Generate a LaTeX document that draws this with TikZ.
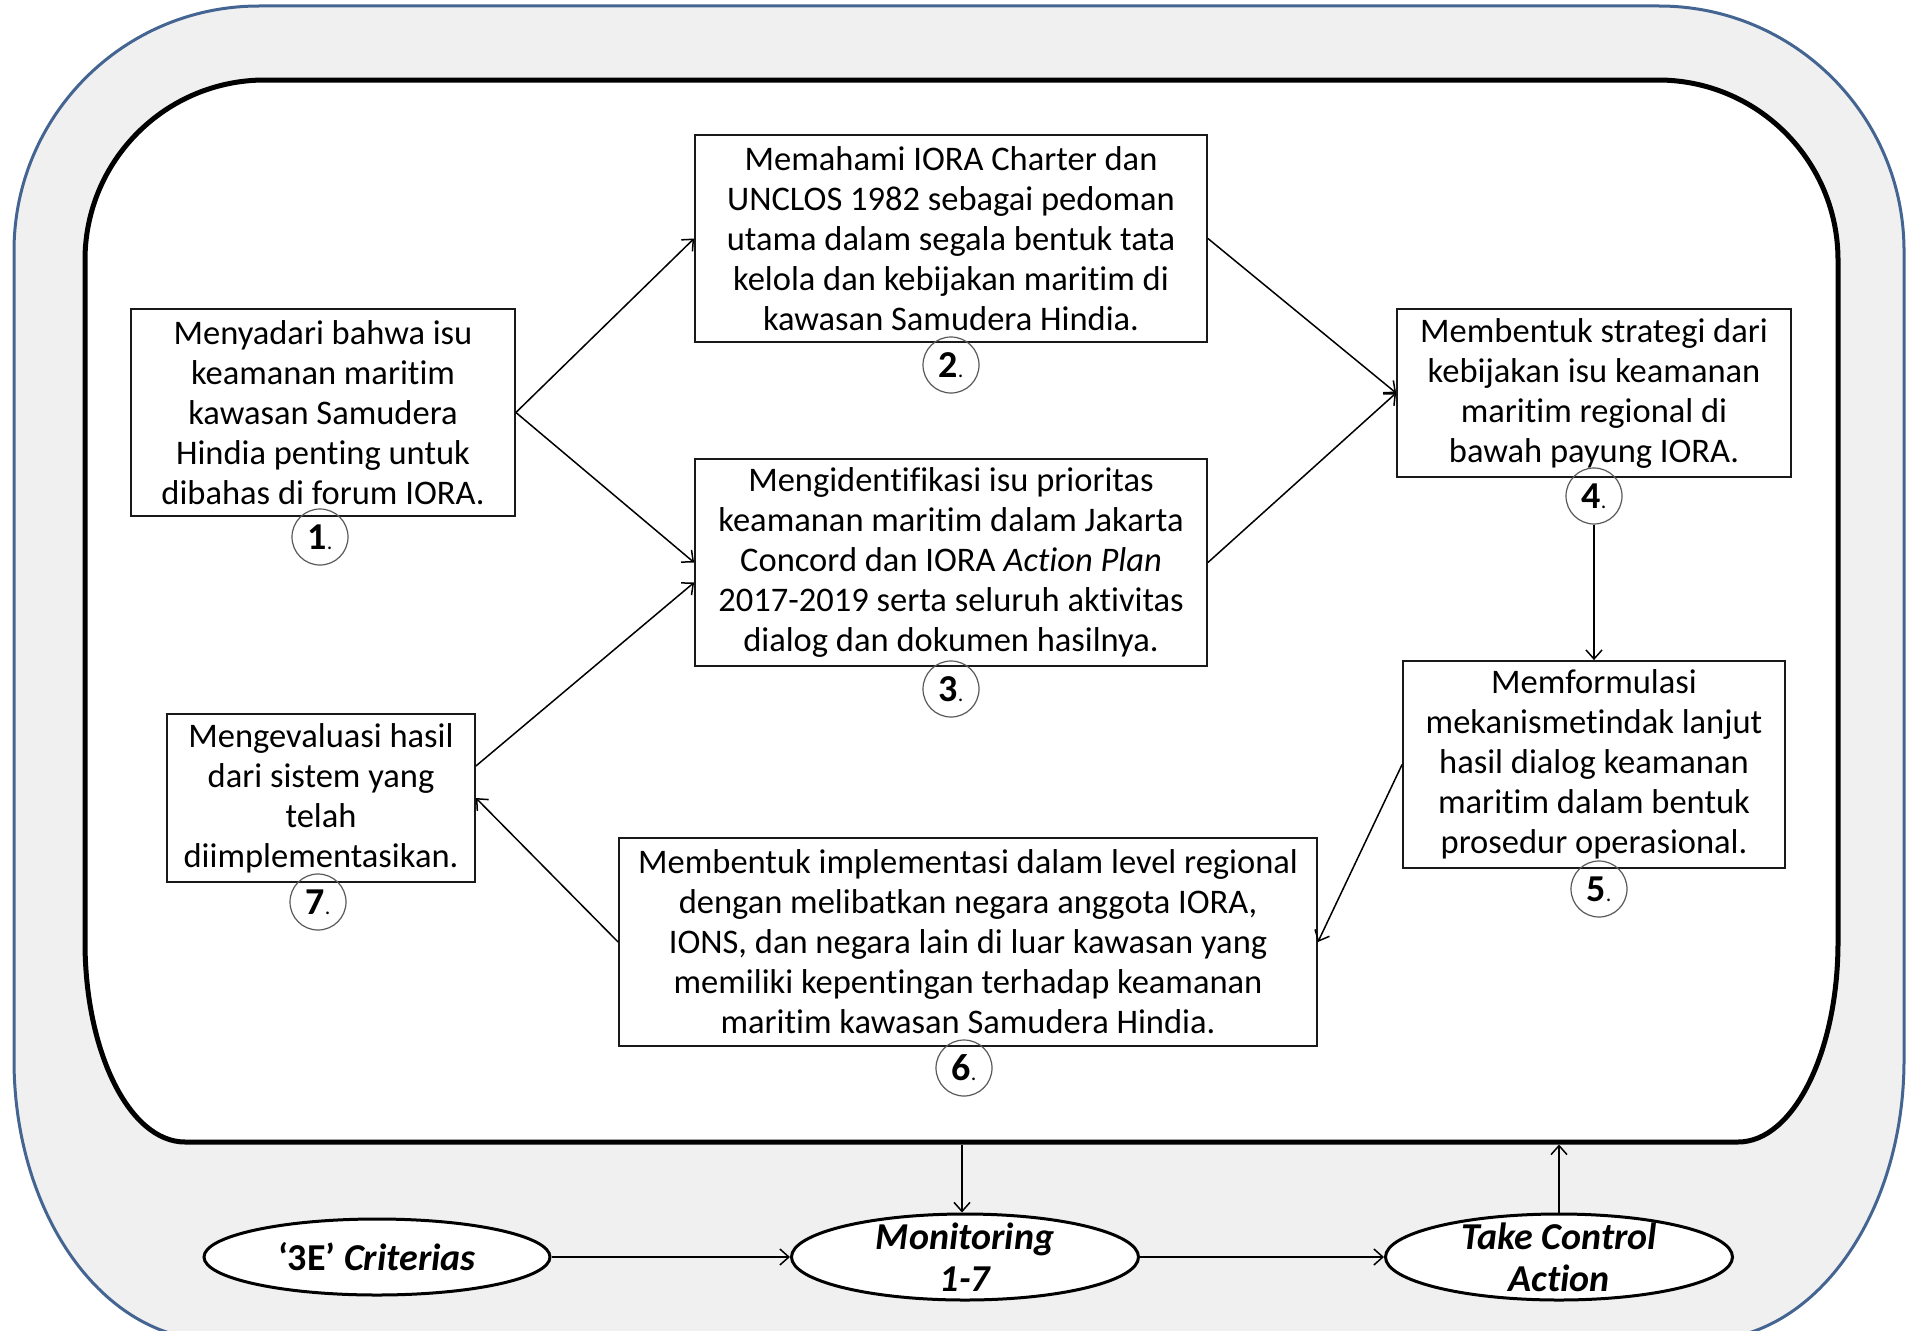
\documentclass[tikz,border=0pt]{standalone}
\usepackage{fontspec}
\setmainfont{Carlito}[RawFeature={-liga;-clig;-calt;-dlig}]
\usetikzlibrary{arrows.meta,shapes.geometric,calc}
\definecolor{bandgray}{RGB}{240,240,240}
\definecolor{frameblue}{RGB}{68,101,145}
\begin{document}
\begin{tikzpicture}[x=1pt,y=-1pt,
  box/.style={draw=black!90, line width=1.8pt, fill=white, align=center, inner sep=0pt,
    font=\fontsize{34.5}{40}\selectfont},
  num/.style={circle, draw=black!65, line width=1.2pt, minimum size=56pt, inner sep=0pt},
  arr/.style={line width=1.5pt, -{Straight Barb[length=9pt,width=16pt,line width=1.5pt]}},
  oval/.style={ellipse, draw=black, line width=3pt, fill=white, inner sep=0pt},
  ovaltext/.style={align=center, inner sep=0pt, font=\fontsize{38}{42}\selectfont\bfseries\itshape},
]
\useasboundingbox (0,0) rectangle (1908,1330);
\clip (0,0) rectangle (1908,1330);
\fill[white] (0,0) rectangle (1908,1330);

% outer frame
\draw[frameblue, line width=3pt, fill=bandgray]
  (259,6) -- (1659,6) arc[start angle=-90,end angle=0,radius=245]
  -- (1904,1060) arc[start angle=0,end angle=90,x radius=200,y radius=280]
  -- (214,1340) arc[start angle=90,end angle=180,x radius=200,y radius=280]
  -- (14,251) arc[start angle=180,end angle=270,radius=245] -- cycle;

% inner frame
\draw[black, line width=5pt, fill=white]
  (265,80) -- (1658,80) arc[start angle=-90,end angle=0,radius=180]
  -- (1838,942) arc[start angle=0,end angle=90,x radius=100,y radius=200]
  -- (185,1142) arc[start angle=90,end angle=180,x radius=100,y radius=200]
  -- (85,260) arc[start angle=180,end angle=270,radius=180] -- cycle;

\coordinate (ibm) at (962,1144.5);
\coordinate (ibt) at (1559,1144.5);

% boxes
\node[box, minimum width=384pt, minimum height=207pt] (b1) at (323,412.5)
  {Menyadari bahwa isu\\keamanan maritim\\kawasan Samudera\\Hindia penting untuk\\dibahas di forum IORA.};
\node[box, minimum width=512pt, minimum height=207pt] (b2) at (951,238.5)
  {Memahami IORA Charter dan\\UNCLOS 1982 sebagai pedoman\\utama dalam segala bentuk tata\\kelola dan kebijakan maritim di\\kawasan Samudera Hindia.};
\node[box, minimum width=512pt, minimum height=207pt] (b3) at (951,562.5)
  {Mengidentifikasi isu prioritas\\keamanan maritim dalam Jakarta\\Concord dan IORA \textit{Action Plan}\\2017-2019 serta seluruh aktivitas\\dialog dan dokumen hasilnya.};
\node[box, minimum width=394pt, minimum height=168pt] (b4) at (1594,393)
  {Membentuk strategi dari\\kebijakan isu keamanan\\maritim regional di\\bawah payung IORA.};
\node[box, minimum width=382pt, minimum height=207pt] (b5) at (1594,764.5)
  {Memformulasi\\mekanismetindak lanjut\\hasil dialog keamanan\\maritim dalam bentuk\\prosedur operasional.};
\node[box, minimum width=698pt, minimum height=208pt] (b6) at (968,942)
  {Membentuk implementasi dalam level regional\\dengan melibatkan negara anggota IORA,\\IONS, dan negara lain di luar kawasan yang\\memiliki kepentingan terhadap keamanan\\maritim kawasan Samudera Hindia.};
\node[box, minimum width=308pt, minimum height=168pt] (b7) at (321,798)
  {Mengevaluasi hasil\\dari sistem yang\\telah\\diimplementasikan.};

% number circles
\newcommand{\numlab}[1]{{\fontsize{38}{40}\selectfont\bfseries #1}{\fontsize{22}{24}\selectfont .}}
\node[num] (c1) at (320,537) {\numlab{1}};
\node[num] (c2) at (951,365) {\numlab{2}};
\node[num] (c3) at (951,689) {\numlab{3}};
\node[num] (c4) at (1594,496) {\numlab{4}};
\node[num] (c5) at (1599,889) {\numlab{5}};
\node[num] (c6) at (964,1068) {\numlab{6}};
\node[num] (c7) at (318,902) {\numlab{7}};

% connectors
\draw[arr] (b1.east) -- (b2.west);
\draw[arr] (b1.east) -- (b3.west);
\draw[arr] ([yshift=32pt]b7.east) -- ([yshift=-20pt]b3.west);
\draw[arr] (b2.east) -- (b4.west);
\draw[arr] (b3.east) -- (b4.west);
\draw[arr] (c4.south) -- (b5.north);
\draw[arr] (b5.west) -- (b6.east);
\draw[arr] (b6.west) -- (b7.east);

% bottom ellipses
\node[oval, minimum width=346pt, minimum height=76pt] (e1) at (377,1257) {};
\node[ovaltext] (e1t) at (e1) {{\upshape ‘3E’} Criterias};
\node[oval, minimum width=347pt, minimum height=86pt] (e2) at (965,1257) {};
\node[ovaltext] (e2t) at (e2) {Monitoring\\1-7};
\node[oval, minimum width=347pt, minimum height=86pt] (e3) at (1559,1257) {};
\node[ovaltext] (e3t) at (e3) {Take Control\\Action};

\draw[arr] (e1.east) -- (e2.west);
\draw[arr] (e2.east) -- (e3.west);
\draw[arr] (ibm) -- (ibm |- e2.north);
\draw[arr] (e3.north) -- (ibt);
\end{tikzpicture}
\end{document}
